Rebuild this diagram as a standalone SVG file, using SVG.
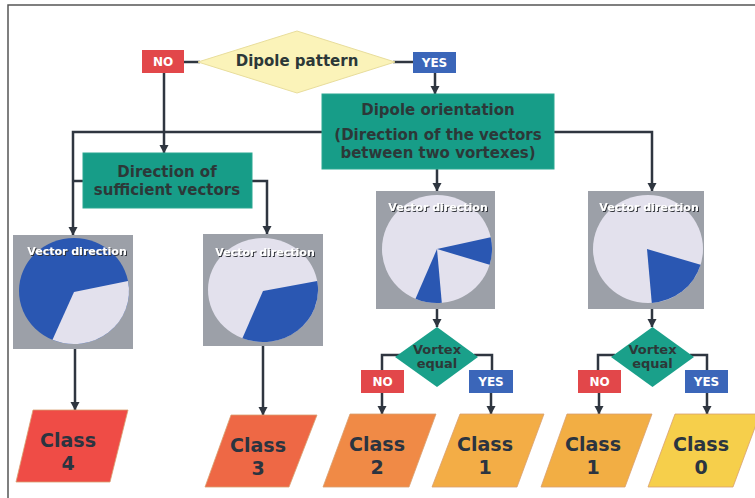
<svg xmlns="http://www.w3.org/2000/svg" width="755" height="498" viewBox="0 0 755 498">
<defs>
<marker id="arr" markerUnits="userSpaceOnUse" markerWidth="10" markerHeight="10" refX="5" refY="9" orient="auto-start-reverse" viewBox="0 0 10 10">
<path d="M0,0 L10,0 L5,9 Z" fill="#2f3640" transform="rotate(-90 5 5)"/>
</marker>
<marker id="ah" markerUnits="userSpaceOnUse" markerWidth="10" markerHeight="10" refX="9" refY="5" orient="auto" viewBox="0 0 10 10">
<path d="M1,0.5 L9.5,5 L1,9.5 Z" fill="#2f3640"/>
</marker>
<filter id="sh" x="-10%" y="-30%" width="120%" height="160%">
<feDropShadow dx="1" dy="1" stdDeviation="0.4" flood-color="#30343a" flood-opacity="1"/>
</filter>
</defs>
<style>
text{font-family:"DejaVu Sans","Verdana",sans-serif;font-weight:bold;text-anchor:middle}
.c{fill:none;stroke:#2f3640;stroke-width:2.5}
.a{marker-end:url(#ah)}
.teal{fill:#179d88;stroke:#2aa892;stroke-width:1}
.tt{font-size:15px;fill:#2c3838}
.no{fill:#e2474a}
.yes{fill:#3b66b9}
.lbl{font-size:12px;fill:#ffffff}
.panel{fill:#9ca0a8}
.disc{fill:#e3e1ed}
.blue{fill:#2a57b2}
.vd{font-size:11px;fill:#ffffff;filter:url(#sh)}
.cls{stroke:#d8a070;stroke-width:0.8}
.ct{font-size:19px;fill:#2b3440}
.vt{font-size:13px;fill:#2c3838}
</style>
<rect width="755" height="498" fill="#ffffff"/>
<path d="M8,498 V5 H755" fill="none" stroke="#555" stroke-width="1.5"/>

<g id="connectors">
<path class="c" d="M184,62 H200"/>
<path class="c" d="M393,62 H413"/>
<path class="c a" d="M435,73 V94"/>
<path class="c a" d="M164,73 V153"/>
<path class="c a" d="M322,132 H73 V235"/>
<path class="c a" d="M554,132 H652 V191"/>
<path class="c a" d="M437,169 V191"/>
<path class="c a" d="M73,181 H267 V234"/>
<path class="c a" d="M75,349 V410"/>
<path class="c a" d="M263,346 V415"/>
<path class="c a" d="M437,309 V327"/>
<path class="c a" d="M652,309 V327"/>
<path class="c" d="M400,355 H382 V370"/>
<path class="c" d="M474,355 H492 V370"/>
<path class="c a" d="M382,393 V414"/>
<path class="c a" d="M491,393 V414"/>
<path class="c" d="M615,355 H598 V370"/>
<path class="c" d="M690,355 H707 V370"/>
<path class="c a" d="M599,393 V414"/>
<path class="c a" d="M707,393 V414"/>
</g>

<g id="dipole-pattern">
<polygon points="198,62 297,31 395,62 297,93" fill="#fbf3b9" stroke="#e8dd9c" stroke-width="1"/>
<text x="297" y="66" class="tt" fill="#333">Dipole pattern</text>
</g>
<g id="no-top">
<rect x="142" y="50" width="42" height="23" class="no"/>
<text x="163" y="66" class="lbl">NO</text>
</g>
<g id="yes-top">
<rect x="413" y="52" width="43" height="21" class="yes"/>
<text x="434.5" y="67" class="lbl">YES</text>
</g>

<g id="dipole-orientation">
<rect x="322" y="94" width="232" height="75" class="teal"/>
<text x="438" y="115" class="tt">Dipole orientation</text>
<text x="438" y="140" class="tt">(Direction of the vectors</text>
<text x="438" y="158" class="tt">between two vortexes)</text>
</g>

<g id="direction-sufficient">
<rect x="83" y="153" width="169" height="55" class="teal"/>
<text x="167" y="177" class="tt">Direction of</text>
<text x="167" y="195" class="tt">sufficient vectors</text>
</g>

<g id="pie1">
<rect x="13" y="235" width="120" height="114" class="panel"/>
<ellipse cx="74" cy="291" rx="55" ry="53" class="blue"/>
<path d="M74,292 L128,280.9 A55,53 0 0 1 52.5,339.8 Z" class="disc"/>
<text x="77" y="255" class="vd">Vector direction</text>
</g>

<g id="pie2">
<rect x="203" y="234" width="120" height="112" class="panel"/>
<ellipse cx="263" cy="290" rx="55" ry="52" class="disc"/>
<path d="M263,291 L317.2,281 A55,52 0 0 1 242.4,338.2 Z" class="blue"/>
<text x="265" y="256" class="vd">Vector direction</text>
</g>

<g id="pie3">
<rect x="376" y="191" width="119" height="118" class="panel"/>
<ellipse cx="437" cy="249" rx="55" ry="54" class="disc"/>
<path d="M437,249 L490.7,237.3 A55,54 0 0 1 489.6,264.8 Z" class="blue"/>
<path d="M437,249 L441.8,302.8 A55,54 0 0 1 415.5,298.7 Z" class="blue"/>
<text x="438" y="211" class="vd">Vector direction</text>
</g>

<g id="pie4">
<rect x="588" y="191" width="116" height="118" class="panel"/>
<ellipse cx="648" cy="249" rx="55" ry="54" class="disc"/>
<path d="M647,249 L700.6,264.8 A55,54 0 0 1 651.8,302.9 Z" class="blue"/>
<text x="649" y="211" class="vd">Vector direction</text>
</g>

<g id="vortex1">
<polygon points="395,357 437,327 478,357 437,387" fill="#1aa08a"/>
<text x="437" y="354" class="vt">Vortex</text>
<text x="437" y="368" class="vt">equal</text>
</g>
<g id="no-v1">
<rect x="361" y="370" width="43" height="23" class="no"/>
<text x="382.5" y="386" class="lbl">NO</text>
</g>
<g id="yes-v1">
<rect x="469" y="370" width="44" height="23" class="yes"/>
<text x="491" y="386" class="lbl">YES</text>
</g>

<g id="vortex2">
<polygon points="611,357 652.5,327 694,357 652.5,387" fill="#1aa08a"/>
<text x="652.5" y="354" class="vt">Vortex</text>
<text x="652.5" y="368" class="vt">equal</text>
</g>
<g id="no-v2">
<rect x="578" y="370" width="43" height="23" class="no"/>
<text x="599.5" y="386" class="lbl">NO</text>
</g>
<g id="yes-v2">
<rect x="685" y="370" width="43" height="23" class="yes"/>
<text x="706.5" y="386" class="lbl">YES</text>
</g>

<g id="class4">
<polygon points="33,410 128,410 110,482 16,482" fill="#ef4c46" class="cls"/>
<text x="68" y="447" class="ct">Class</text>
<text x="68" y="470" class="ct">4</text>
</g>
<g id="class3">
<polygon points="231,415 317,415 289,487 205,487" fill="#ee6845" class="cls"/>
<text x="258" y="452" class="ct">Class</text>
<text x="258" y="475" class="ct">3</text>
</g>
<g id="class2">
<polygon points="350,414 436,414 409,487 323,487" fill="#f08a46" class="cls"/>
<text x="377" y="451" class="ct">Class</text>
<text x="377" y="474" class="ct">2</text>
</g>
<g id="class1a">
<polygon points="460,414 544,414 517,487 432,487" fill="#f3ad46" class="cls"/>
<text x="485" y="451" class="ct">Class</text>
<text x="485" y="474" class="ct">1</text>
</g>
<g id="class1b">
<polygon points="567,414 652,414 625,487 541,487" fill="#f2ae44" class="cls"/>
<text x="593" y="451" class="ct">Class</text>
<text x="593" y="474" class="ct">1</text>
</g>
<g id="class0">
<polygon points="675,414 760,414 733,487 648,487" fill="#f6cf4b" class="cls"/>
<text x="701" y="451" class="ct">Class</text>
<text x="701" y="474" class="ct">0</text>
</g>
</svg>
